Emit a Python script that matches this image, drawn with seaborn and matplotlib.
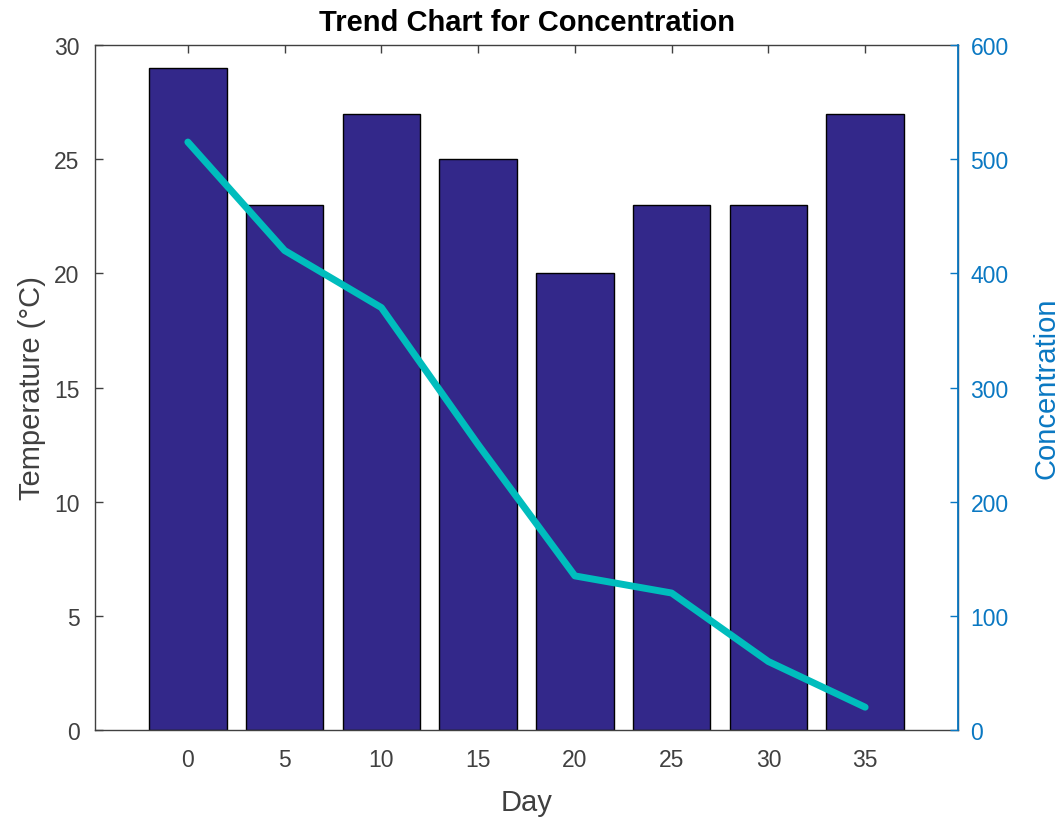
import numpy as np
import pandas as pd
import seaborn as sns
import matplotlib.pyplot as plt

days = [0, 5, 10, 15, 20, 25, 30, 35]
temperature = [29, 23, 27, 25, 20, 23, 23, 27]
concentration = [515, 420, 370, 250, 135, 120, 60, 20]

bar_clr = '#33288a'
line_clr = '#00bdbd'
axis_blue = '#0a78c2'
grey = '#404040'

sns.set_style('white')
plt.rcParams['font.family'] = ['Liberation Sans', 'DejaVu Sans']

df = pd.DataFrame({'day': days, 'temp': temperature, 'conc': concentration})

fig = plt.figure(figsize=(10.6, 8.2), dpi=100)
ax = fig.add_axes([0.0896, 0.1085, 0.8142, 0.8354])

sns.barplot(data=df, x='day', y='temp', native_scale=True, width=0.8,
            color=bar_clr, saturation=1, edgecolor='black', linewidth=1, ax=ax)
ax.set_xlim(-4.8, 39.8)
ax.set_ylim(0, 30)
ax.set_xticks(days)
ax.set_yticks(range(0, 31, 5))
ax.set_xlabel('Day', fontsize=21, color=grey, labelpad=12)
ax.set_ylabel('Temperature (°C)', fontsize=21, color=grey, labelpad=6)
ax.set_title('Trend Chart for Concentration', fontsize=21, fontweight='bold',
             color='black', pad=11)
ax.tick_params(axis='both', direction='in', length=6, width=1, colors=grey,
               labelsize=16.5, labelcolor=grey, top=True, left=True, bottom=True)
ax.tick_params(axis='x', pad=13)
ax.tick_params(axis='y', pad=11)
for s in ax.spines.values():
    s.set_color(grey)
    s.set_linewidth(1)

ax2 = ax.twinx()
sns.lineplot(data=df, x='day', y='conc', color=line_clr, linewidth=5, ax=ax2)
ax2.set_ylim(0, 600)
ax2.set_xlim(-4.8, 39.8)
ax2.set_yticks(range(0, 601, 100))
ax2.set_ylabel('Concentration', fontsize=21, color=axis_blue, labelpad=17)
ax2.tick_params(axis='y', direction='in', length=6, width=1, colors=axis_blue,
                labelsize=16.5, labelcolor=axis_blue, right=True, left=False, pad=9)
ax2.spines['right'].set_color(axis_blue)
ax2.spines['right'].set_linewidth(1.3)
for s in ['left', 'top', 'bottom']:
    ax2.spines[s].set_visible(False)

fig.savefig('out.png', dpi=100)
